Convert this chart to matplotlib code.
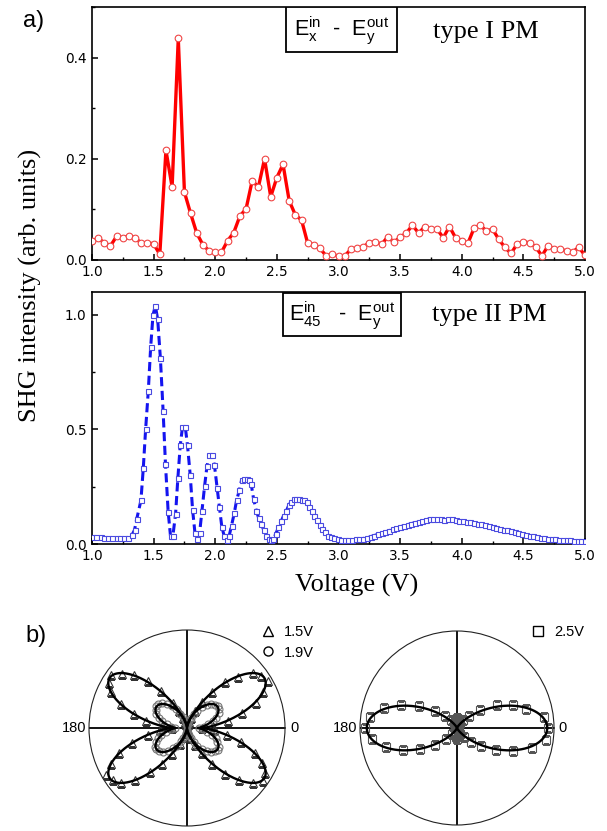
import numpy as np
import matplotlib
matplotlib.use("Agg")
import matplotlib.pyplot as plt
from matplotlib.lines import Line2D
from matplotlib.patches import Rectangle
from matplotlib.ticker import MultipleLocator

plt.rcParams['mathtext.default'] = 'regular'

# ---------------- data ----------------
# panel a (top): type I PM, E_x^in - E_y^out
volt_red = np.round(np.linspace(1.0, 5.0, 81), 2)
shg_red = [0.038, 0.043, 0.034, 0.028, 0.047, 0.043, 0.048, 0.044, 0.033, 0.034,
           0.032, 0.011, 0.217, 0.144, 0.438, 0.134, 0.092, 0.053, 0.030, 0.018,
           0.015, 0.015, 0.038, 0.054, 0.087, 0.101, 0.157, 0.144, 0.200, 0.125,
           0.163, 0.189, 0.117, 0.089, 0.079, 0.033, 0.030, 0.023, 0.008, 0.012,
           0.007, 0.008, 0.021, 0.023, 0.026, 0.034, 0.036, 0.031, 0.046, 0.035,
           0.045, 0.053, 0.069, 0.053, 0.066, 0.061, 0.061, 0.044, 0.066, 0.044,
           0.038, 0.033, 0.063, 0.069, 0.057, 0.061, 0.041, 0.025, 0.013, 0.032,
           0.036, 0.034, 0.026, 0.008, 0.028, 0.022, 0.021, 0.018, 0.016, 0.025,
           0.009]

# panel a (middle): type II PM, E_45^in - E_y^out
volt_blue = [1.00, 1.03, 1.07, 1.10, 1.13, 1.16, 1.20, 1.23, 1.26, 1.29,
             1.325, 1.345, 1.362, 1.397, 1.416, 1.435, 1.457, 1.476, 1.495, 1.514,
             1.533, 1.555, 1.577, 1.596, 1.618, 1.637, 1.656, 1.678, 1.697, 1.716,
             1.734, 1.757, 1.775, 1.797, 1.816, 1.835, 1.854, 1.873, 1.892, 1.914,
             1.933, 1.952, 1.974, 1.993, 2.015, 2.034, 2.053, 2.072, 2.094, 2.113,
             2.132, 2.154, 2.173, 2.195, 2.214, 2.236, 2.255, 2.277, 2.292, 2.311,
             2.333, 2.352, 2.374, 2.393, 2.412, 2.434, 2.453, 2.472, 2.491, 2.513,
             2.535, 2.554, 2.576, 2.598, 2.617, 2.639, 2.658, 2.680, 2.702, 2.721,
             2.743, 2.762, 2.784, 2.803, 2.825, 2.847, 2.866, 2.891, 2.916, 2.942,
             2.967, 2.992,
             3.02, 3.05, 3.08, 3.11, 3.14, 3.17, 3.20, 3.23, 3.26, 3.29,
             3.32, 3.35, 3.38, 3.41, 3.44, 3.47, 3.50, 3.53, 3.56, 3.59,
             3.62, 3.65, 3.68, 3.71, 3.74, 3.77, 3.80, 3.83, 3.86, 3.89,
             3.92, 3.95, 3.98, 4.01, 4.04, 4.07, 4.10, 4.13, 4.16, 4.19,
             4.22, 4.25, 4.28, 4.31, 4.34, 4.37, 4.40, 4.43, 4.46, 4.49,
             4.52, 4.55, 4.58, 4.61, 4.64, 4.67, 4.70, 4.73, 4.76, 4.79,
             4.82, 4.85, 4.88, 4.91, 4.94, 4.97, 5.00]
shg_blue = [0.030, 0.031, 0.029, 0.027, 0.026, 0.026, 0.025, 0.027, 0.026, 0.028,
            0.040, 0.061, 0.107, 0.190, 0.330, 0.500, 0.670, 0.860, 1.000, 1.040,
            0.980, 0.810, 0.580, 0.350, 0.140, 0.035, 0.035, 0.130, 0.290, 0.430,
            0.510, 0.510, 0.430, 0.300, 0.150, 0.050, 0.022, 0.048, 0.146, 0.255,
            0.340, 0.387, 0.387, 0.346, 0.245, 0.160, 0.076, 0.036, 0.018, 0.036,
            0.080, 0.134, 0.190, 0.234, 0.280, 0.285, 0.285, 0.280, 0.260, 0.197,
            0.146, 0.114, 0.088, 0.061, 0.036, 0.022, 0.018, 0.022, 0.044, 0.073,
            0.099, 0.123, 0.143, 0.171, 0.185, 0.197, 0.197, 0.197, 0.194, 0.190,
            0.182, 0.160, 0.143, 0.124, 0.105, 0.083, 0.066, 0.051, 0.036, 0.029,
            0.026, 0.022,
            0.018, 0.017, 0.018, 0.019, 0.020, 0.021, 0.024, 0.028, 0.032, 0.037,
            0.042, 0.047, 0.053, 0.058, 0.064, 0.070, 0.075, 0.080, 0.084, 0.089,
            0.093, 0.097, 0.101, 0.105, 0.111, 0.110, 0.108, 0.107, 0.106, 0.108,
            0.110, 0.106, 0.102, 0.099, 0.097, 0.094, 0.092, 0.088, 0.086, 0.082,
            0.079, 0.075, 0.071, 0.067, 0.063, 0.059, 0.055, 0.051, 0.047, 0.043,
            0.039, 0.036, 0.033, 0.030, 0.028, 0.026, 0.024, 0.022, 0.021, 0.019,
            0.018, 0.017, 0.016, 0.015, 0.015, 0.014, 0.014]

# panel b: polar SHG patterns, angle in degrees
angle_5deg = list(range(0, 360, 5))
r_15V = [0.15, 0.27, 0.42, 0.58, 0.75, 0.86, 0.95, 0.92, 0.88, 0.74,
         0.61, 0.45, 0.31, 0.19, 0.11, 0.06, 0.03, 0.02, 0.02, 0.02,
         0.03, 0.06, 0.11, 0.19, 0.29, 0.46, 0.62, 0.77, 0.86, 0.95,
         0.92, 0.86, 0.72, 0.56, 0.42, 0.26, 0.15, 0.28, 0.40, 0.58,
         0.74, 0.86, 0.96, 0.92, 0.88, 0.75, 0.59, 0.45, 0.31, 0.18,
         0.10, 0.05, 0.03, 0.02, 0.02, 0.02, 0.03, 0.05, 0.11, 0.19,
         0.30, 0.45, 0.61, 0.75, 0.88, 0.95, 0.92, 0.85, 0.74, 0.57,
         0.41, 0.28]
r_19V = [0.12, 0.17, 0.22, 0.27, 0.31, 0.36, 0.38, 0.39, 0.37, 0.34,
         0.31, 0.26, 0.20, 0.16, 0.11, 0.08, 0.05, 0.03, 0.02, 0.03,
         0.05, 0.08, 0.12, 0.16, 0.22, 0.27, 0.32, 0.36, 0.38, 0.39,
         0.37, 0.35, 0.30, 0.26, 0.21, 0.16, 0.12, 0.16, 0.22, 0.27,
         0.31, 0.35, 0.38, 0.38, 0.37, 0.35, 0.30, 0.25, 0.21, 0.15,
         0.11, 0.08, 0.05, 0.03, 0.02, 0.03, 0.05, 0.07, 0.11, 0.16,
         0.21, 0.26, 0.31, 0.35, 0.37, 0.39, 0.38, 0.34, 0.31, 0.26,
         0.21, 0.16]
angle_7p5deg = [i * 7.5 for i in range(48)]
r_25V = [0.94, 0.90, 0.74, 0.63, 0.48, 0.30, 0.18, 0.10, 0.06, 0.05,
         0.07, 0.09, 0.10, 0.08, 0.06, 0.05, 0.06, 0.10, 0.17, 0.28,
         0.45, 0.62, 0.78, 0.90, 0.95, 0.88, 0.76, 0.60, 0.44, 0.28,
         0.16, 0.08, 0.05, 0.06, 0.07, 0.09, 0.11, 0.08, 0.06, 0.05,
         0.07, 0.12, 0.20, 0.31, 0.46, 0.62, 0.80, 0.93]

# fitted lobe model parameters (lobe directions in deg, amplitude, sharpness)
fit_15V = dict(angles=[33, 147, 213, 327], amp=0.94, power=10)
fit_19V = dict(angles=[35, 145, 215, 325], amp=0.38, power=6)
fit_25V = dict(angles=[0, 180], amp=0.93, power=5.5)


def lobe_curve(theta, angles, amp, power):
    c = np.cos(theta[:, None] - np.radians(angles)[None, :])
    c = np.clip(c, 0, None) ** power
    return amp * c.max(axis=1)


# ---------------- figure ----------------
W, H = 607, 831
fig = plt.figure(figsize=(W / 100, H / 100), dpi=100)


def fx(px):
    return px / W


def fy(py):
    return 1 - py / H


serif = 'Liberation Serif'
sans = 'Liberation Sans'


def style_axes(ax, ymax, ymajor, yminor):
    ax.set_xlim(1.0, 5.0)
    ax.set_ylim(0, ymax)
    ax.xaxis.set_major_locator(MultipleLocator(0.5))
    ax.xaxis.set_minor_locator(MultipleLocator(0.25))
    ax.yaxis.set_major_locator(MultipleLocator(ymajor))
    ax.yaxis.set_minor_locator(MultipleLocator(yminor))
    ax.tick_params(which='major', direction='in', length=4, width=1.1,
                   top=False, right=False, labelsize=9.8)
    ax.tick_params(axis='x', which='major', pad=3.5)
    ax.tick_params(axis='y', which='major', pad=4)
    ax.tick_params(which='minor', direction='in', length=2.5, width=1.0,
                   top=False, right=False)
    ax.xaxis.set_major_formatter(plt.FuncFormatter(lambda v, p: f"{v:.1f}"))
    ax.yaxis.set_major_formatter(plt.FuncFormatter(lambda v, p: f"{v:.1f}"))
    for lab in ax.get_xticklabels() + ax.get_yticklabels():
        lab.set_fontfamily('DejaVu Sans')
    for s in ax.spines.values():
        s.set_linewidth(1.2)


# top panel
ax1 = fig.add_axes([fx(92), fy(260), fx(585) - fx(92), fy(7) - fy(260)])
ax1.plot(volt_red, shg_red, color='#ff0000', lw=2.4, zorder=2)
ax1.plot(volt_red, shg_red, ls='none', marker='o', ms=4.8, mfc='white',
         mec='#f04545', mew=0.8, zorder=3)
style_axes(ax1, 0.5, 0.2, 0.1)
ax1.add_patch(Rectangle((0.3935, 0.822), 0.225, 0.178, transform=ax1.transAxes,
                        fc='white', ec='black', lw=1.3, zorder=4))
ax1.text(0.506, 0.905, r'$E_x^{in}$  -  $E_y^{out}$', transform=ax1.transAxes,
         ha='center', va='center', fontsize=15.5, family=sans, zorder=5)
ax1.text(0.692, 0.90, 'type I PM', transform=ax1.transAxes, ha='left',
         va='center', fontsize=19, family=serif)

# middle panel
ax2 = fig.add_axes([fx(92), fy(544), fx(585) - fx(92), fy(292) - fy(544)])
ax2.plot(volt_blue, shg_blue, color='#1414f0', lw=2.2, ls=(0, (3, 1.5)), zorder=2)
ax2.plot(volt_blue, shg_blue, ls='none', marker='s', ms=3.6, mfc='white',
         mec='#4a4ae0', mew=0.8, zorder=3)
style_axes(ax2, 1.1, 0.5, 0.25)
ax2.add_patch(Rectangle((0.387, 0.825), 0.24, 0.171, transform=ax2.transAxes,
                        fc='white', ec='black', lw=1.3, zorder=4))
ax2.text(0.507, 0.905, r'$E_{45}^{in}$   -  $E_y^{out}$', transform=ax2.transAxes,
         ha='center', va='center', fontsize=15.5, family=sans, zorder=5)
ax2.text(0.690, 0.909, 'type II PM', transform=ax2.transAxes, ha='left',
         va='center', fontsize=19, family=serif)

fig.text(fx(30), fy(285), 'SHG intensity (arb. units)', rotation=90,
         ha='center', va='center', fontsize=19, family=serif)
fig.text(fx(357), fy(592), 'Voltage (V)', ha='center', va='baseline',
         fontsize=19, family=serif)
fig.text(fx(23), fy(27), 'a)', ha='left', va='baseline', fontsize=17, family=sans)
fig.text(fx(25), fy(642), 'b)', ha='left', va='baseline', fontsize=17, family=sans)

# polar panels
theta_fine = np.linspace(0, 2 * np.pi, 1441)


def style_polar(ax):
    ax.set_ylim(0, 1)
    ax.set_yticks([])
    ax.set_xticks(np.radians([0, 90, 180, 270]))
    ax.set_xticklabels([])
    ax.xaxis.grid(True, color='black', lw=1.3)
    ax.yaxis.grid(False)
    ax.spines['polar'].set_linewidth(0.8)
    ax.spines['polar'].set_color('#222222')
    ax.text(0, 1.05, '0', ha='left', va='center', fontsize=10.5, family=sans)
    ax.text(np.pi, 1.03, '180', ha='right', va='center', fontsize=10.5, family=sans)


r1 = 98
axp1 = fig.add_axes([fx(187 - r1), fy(728 + r1), fx(2 * r1), 2 * r1 / H],
                    projection='polar')
style_polar(axp1)
axp1.plot(np.radians(angle_5deg), r_15V, ls='none', marker='^', ms=5.8, mfc='none',
          mec='#333333', mew=0.8, zorder=2)
axp1.plot(np.radians(angle_5deg), r_19V, ls='none', marker='o', ms=5, mfc='none',
          mec='#777777', mew=0.8, zorder=2)
axp1.plot(theta_fine, lobe_curve(theta_fine, **fit_15V), color='black', lw=1.7, zorder=3)
axp1.plot(theta_fine, lobe_curve(theta_fine, **fit_19V), color='black', lw=1.7, zorder=3)

r2 = 97
axp2 = fig.add_axes([fx(457 - r2), fy(728 + r2), fx(2 * r2), 2 * r2 / H],
                    projection='polar')
style_polar(axp2)
axp2.plot(np.radians(angle_7p5deg), r_25V, ls='none', marker='s', ms=5.2, mfc='none',
          mec='#555555', mew=0.8, zorder=2)
axp2.plot(theta_fine, lobe_curve(theta_fine, **fit_25V), color='black', lw=1.7, zorder=3)

h_tri = Line2D([], [], ls='none', marker='^', ms=7, mfc='none', mec='black', mew=1.0)
h_cir = Line2D([], [], ls='none', marker='o', ms=6.5, mfc='none', mec='black', mew=1.0)
h_sq = Line2D([], [], ls='none', marker='s', ms=6.5, mfc='none', mec='black', mew=1.0)
fig.legend([h_tri, h_cir], ['1.5V', '1.9V'], loc='upper left',
           bbox_to_anchor=(fx(261), fy(625)), frameon=False, borderpad=0,
           borderaxespad=0, handlelength=1.0, handletextpad=0.6,
           labelspacing=0.45, prop=dict(family=sans, size=10.5))
fig.legend([h_sq], ['2.5V'], loc='upper left',
           bbox_to_anchor=(fx(531), fy(625)), frameon=False, borderpad=0,
           borderaxespad=0, handlelength=1.0, handletextpad=0.6,
           prop=dict(family=sans, size=10.5))

fig.savefig('out.png', dpi=100)
